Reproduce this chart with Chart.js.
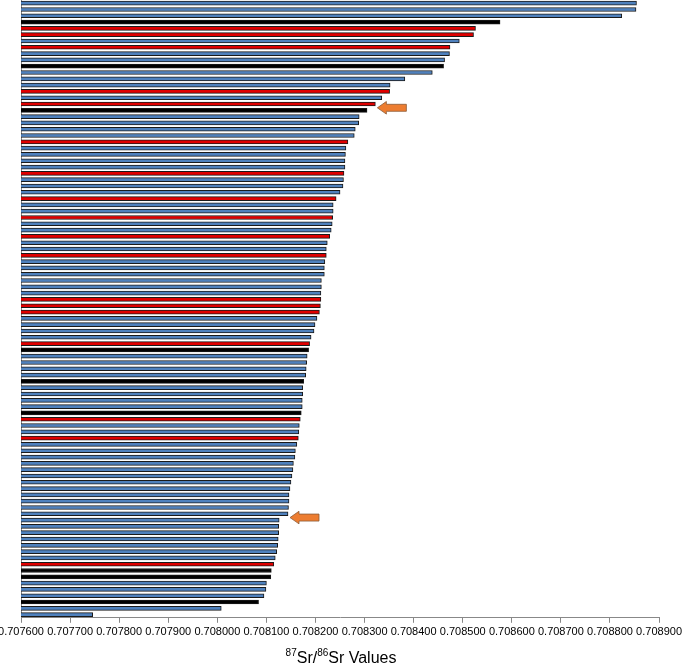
<!DOCTYPE html>
<html>
<head>
<meta charset="utf-8">
<script src="https://cdn.jsdelivr.net/npm/chart.js@4"></script>
<style>
html, body { margin: 0; padding: 0; background: #fff; }
#wrap { width: 685px; height: 667px; position: relative; }
</style>
</head>
<body>
<div id="wrap"><canvas id="chart1"></canvas></div>
<script>
// 87Sr/86Sr per sample, sorted high -> low (top bar first)
const srValues = [
  0.708854, 0.708853, 0.708824, 0.708576, 0.708526, 0.708522, 0.708493, 0.708474, 0.708473, 0.708463,
  0.708461, 0.708438, 0.708382, 0.708352, 0.708351, 0.708335, 0.708322, 0.708305, 0.708289, 0.708288,
  0.708281, 0.708279, 0.708266, 0.708262, 0.708261, 0.708260, 0.708260, 0.708258, 0.708257, 0.708256,
  0.708250, 0.708242, 0.708236, 0.708236, 0.708235, 0.708234, 0.708232, 0.708229, 0.708224, 0.708222,
  0.708222, 0.708219, 0.708218, 0.708218, 0.708212, 0.708212, 0.708211, 0.708211, 0.708210, 0.708208,
  0.708203, 0.708199, 0.708197, 0.708191, 0.708188, 0.708186, 0.708183, 0.708182, 0.708181, 0.708180,
  0.708176, 0.708174, 0.708174, 0.708173, 0.708173, 0.708171, 0.708169, 0.708167, 0.708166, 0.708165,
  0.708162, 0.708159, 0.708158, 0.708155, 0.708154, 0.708152, 0.708150, 0.708148, 0.708146, 0.708146,
  0.708145, 0.708144, 0.708126, 0.708125, 0.708125, 0.708124, 0.708123, 0.708121, 0.708118, 0.708115,
  0.708110, 0.708109, 0.708100, 0.708099, 0.708095, 0.708084, 0.708008, 0.707746
];
// b = blue, r = red, k = black
const sampleGroup = [
  'b','b','b','k','r','r','b','r','b','b',
  'k','b','b','b','r','b','r','k','b','b',
  'b','b','r','b','b','b','b','r','b','b',
  'b','r','b','b','r','b','b','r','b','b',
  'r','b','b','b','b','b','b','r','r','r',
  'b','b','b','b','r','k','b','b','b','b',
  'k','b','b','b','b','k','r','b','b','r',
  'b','b','b','b','b','b','b','b','b','b',
  'b','b','b','b','b','b','b','b','b','r',
  'k','k','b','b','b','k','b','b'
];
const samples = srValues.map((v, i) => String(i + 1));
// bars the two arrows point at (0-based)
const arrowBars = [16, 81];
const xMin = 0.7076, xMax = 0.7089, xStep = 0.0001;

const groupColor = { b: '#4f81bd', r: '#e00000', k: '#000000' };

// orange arrows next to the flagged bars
const arrowPlugin = {
  id: 'arrows',
  afterDatasetsDraw(chart) {
    const ctx = chart.ctx;
    const bars = chart.getDatasetMeta(0).data;
    const pitch = chart.scales.y.getPixelForValue(1) - chart.scales.y.getPixelForValue(0);
    arrowBars.forEach(i => {
      const tx = bars[i].x + 2;
      const cy = bars[i].y + pitch * 0.6;
      const head = 9, len = 29, hh = 6.3, sh = 3.5;
      ctx.save();
      ctx.beginPath();
      ctx.moveTo(tx, cy);
      ctx.lineTo(tx + head, cy - hh);
      ctx.lineTo(tx + head, cy - sh);
      ctx.lineTo(tx + len, cy - sh);
      ctx.lineTo(tx + len, cy + sh);
      ctx.lineTo(tx + head, cy + sh);
      ctx.lineTo(tx + head, cy + hh);
      ctx.closePath();
      ctx.fillStyle = '#ed7d31';
      ctx.fill();
      ctx.strokeStyle = '#8c5a36';
      ctx.lineWidth = 0.8;
      ctx.stroke();
      ctx.restore();
    });
  }
};

// x axis title with superscripts
const titlePlugin = {
  id: 'xtitle',
  afterDraw(chart) {
    const ctx = chart.ctx;
    const parts = [
      ['87', 10, true], ['Sr/', 16, false], ['86', 10, true], ['Sr Values', 16, false]
    ];
    ctx.save();
    ctx.fillStyle = '#000';
    ctx.textBaseline = 'alphabetic';
    let w = 0;
    parts.forEach(p => { ctx.font = p[1] + 'px "Liberation Sans", Arial, sans-serif'; w += ctx.measureText(p[0]).width; });
    let x = (chart.chartArea.left + chart.chartArea.right) / 2 + 1 - w / 2;
    const base = 663;
    parts.forEach(p => {
      ctx.font = p[1] + 'px "Liberation Sans", Arial, sans-serif';
      ctx.fillText(p[0], x, p[2] ? base - 7 : base);
      x += ctx.measureText(p[0]).width;
    });
    ctx.restore();
  }
};

let chart = new Chart('chart1', {
  type: 'bar',
  data: {
    labels: samples,
    datasets: [{
      data: srValues,
      backgroundColor: sampleGroup.map(g => groupColor[g]),
      borderColor: '#1a1a1a',
      borderWidth: 1,
      borderSkipped: false,
      barThickness: 4
    }]
  },
  options: {
    indexAxis: 'y',
    responsive: true,
    maintainAspectRatio: false,
    animation: false,
    layout: { padding: { top: 0, right: 3, bottom: 25, left: 0 } },
    scales: {
      x: {
        min: xMin,
        max: xMax,
        // let the first tick label sit right at the left edge, as in the original
        afterFit: s => { s.paddingLeft = 21; },
        ticks: {
          stepSize: xStep,
          color: '#000',
          font: { family: '"Liberation Sans", Arial, sans-serif', size: 11 },
          maxRotation: 0,
          autoSkip: false,
          padding: 3,
          callback: v => Number(v).toFixed(6)
        },
        grid: { drawOnChartArea: false, tickLength: 5, color: '#888' },
        border: { color: '#888' }
      },
      y: {
        ticks: { display: false },
        grid: { display: false },
        border: { color: '#888' }
      }
    },
    plugins: {
      legend: { display: false },
      tooltip: { enabled: false }
    }
  },
  plugins: [arrowPlugin, titlePlugin]
});
</script>
</body>
</html>
